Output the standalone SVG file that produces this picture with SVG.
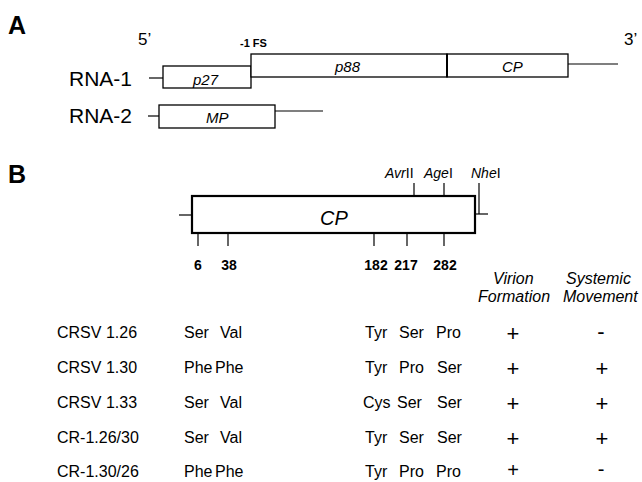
<svg xmlns="http://www.w3.org/2000/svg" width="642" height="482" viewBox="0 0 642 482">
<style>
text{font-family:"Liberation Sans",Arial,sans-serif;fill:#000}
.lbl{font-size:25px;font-weight:bold}
.rna{font-size:21px}
.end{font-size:17px}
.box{fill:#fff;stroke:#000;stroke-width:1.3}
.thick{fill:#fff;stroke:#000;stroke-width:2.2}
.ln{stroke:#000;stroke-width:1.2;fill:none}
.it{font-style:italic}
.g{font-size:15px}
.site{font-size:14px}
.num{font-size:14px;font-weight:bold}
.hd{font-size:16px;font-style:italic}
.row{font-size:16px}
.pm{font-size:22px}
.pm2{font-size:20px}
</style>
<rect width="642" height="482" fill="#fff"/>
<text class="lbl" x="8" y="34">A</text>
<text class="end" x="138" y="45">5’</text>
<text x="240" y="47" style="font-size:11px;font-weight:bold">-1 FS</text>
<text class="end" x="624" y="45">3’</text>

<g id="rna1">
<text class="rna" x="69" y="86">RNA-1</text>
<line class="ln" x1="149" y1="78" x2="163" y2="78"/>
<rect class="box" x="163" y="66" width="88" height="22"/>
<text class="g it" x="193" y="85">p27</text>
<rect class="box" x="251" y="54" width="196" height="23"/>
<text class="g it" x="335" y="72">p88</text>
<rect class="box" x="447" y="54" width="121" height="23"/>
<line x1="447" y1="54" x2="447" y2="77" stroke="#000" stroke-width="2"/>
<text class="g it" x="502" y="72">CP</text>
<line class="ln" x1="568" y1="64" x2="618" y2="64"/>
</g>

<g id="rna2">
<text class="rna" x="69" y="123">RNA-2</text>
<line class="ln" x1="148" y1="116" x2="159" y2="116"/>
<rect class="box" x="159" y="105" width="116" height="23"/>
<text class="g it" x="206" y="123">MP</text>
<line class="ln" x1="275" y1="111" x2="323" y2="111"/>
</g>

<text class="lbl" x="8" y="183">B</text>

<g id="cp">
<line class="ln" x1="179" y1="215" x2="192" y2="215"/>
<rect class="thick" x="192" y="196" width="283" height="37"/>
<text x="320" y="225" style="font-size:20px;font-style:italic">CP</text>
<line class="ln" x1="475" y1="214" x2="488" y2="214"/>
</g>

<g id="sites">
<text class="site" x="385" y="178"><tspan class="it">Avr</tspan>II</text>
<text class="site" x="424" y="178"><tspan class="it">Age</tspan>I</text>
<text class="site" x="471" y="178"><tspan class="it">Nhe</tspan>I</text>
<line class="ln" x1="414" y1="183" x2="414" y2="196"/>
<line class="ln" x1="444" y1="183" x2="444" y2="196"/>
<line class="ln" x1="479" y1="183" x2="479" y2="214"/>
</g>

<g id="ticks">
<line class="ln" x1="198" y1="233" x2="198" y2="246"/>
<line class="ln" x1="228" y1="233" x2="228" y2="246"/>
<line class="ln" x1="374" y1="233" x2="374" y2="246"/>
<line class="ln" x1="407" y1="233" x2="407" y2="246"/>
<line class="ln" x1="444" y1="233" x2="444" y2="246"/>
<text class="num" x="198" y="270" text-anchor="middle">6</text>
<text class="num" x="229" y="270" text-anchor="middle">38</text>
<text class="num" x="376" y="270" text-anchor="middle">182</text>
<text class="num" x="406" y="270" text-anchor="middle">217</text>
<text class="num" x="445" y="270" text-anchor="middle">282</text>
</g>

<g id="headers">
<text class="hd" x="493" y="284">Virion</text>
<text class="hd" x="478" y="302">Formation</text>
<text class="hd" x="566" y="284">Systemic</text>
<text class="hd" x="563" y="302">Movement</text>
</g>

<g id="rows">
<text class="row" x="57" y="338">CRSV 1.26</text>
<text class="row"><tspan x="184" y="338">Ser</tspan><tspan x="220">Val</tspan></text>
<text class="row"><tspan x="365" y="338">Tyr</tspan><tspan x="399">Ser</tspan><tspan x="436">Pro</tspan></text>
<text class="pm" x="513" y="341" text-anchor="middle">+</text>
<text class="pm" x="601" y="339" text-anchor="middle">-</text>

<text class="row" x="57" y="373">CRSV 1.30</text>
<text class="row"><tspan x="184" y="373">Phe</tspan><tspan x="215">Phe</tspan></text>
<text class="row"><tspan x="365" y="373">Tyr</tspan><tspan x="399">Pro</tspan><tspan x="437">Ser</tspan></text>
<text class="pm" x="513" y="376" text-anchor="middle">+</text>
<text class="pm" x="602" y="376" text-anchor="middle">+</text>

<text class="row" x="57" y="408">CRSV 1.33</text>
<text class="row"><tspan x="184" y="408">Ser</tspan><tspan x="220">Val</tspan></text>
<text class="row"><tspan x="363" y="408">Cys</tspan><tspan x="397">Ser</tspan><tspan x="437">Ser</tspan></text>
<text class="pm" x="513" y="411" text-anchor="middle">+</text>
<text class="pm" x="602" y="411" text-anchor="middle">+</text>

<text class="row" x="57" y="443">CR-1.26/30</text>
<text class="row"><tspan x="184" y="443">Ser</tspan><tspan x="220">Val</tspan></text>
<text class="row"><tspan x="365" y="443">Tyr</tspan><tspan x="399">Ser</tspan><tspan x="437">Ser</tspan></text>
<text class="pm" x="513" y="446" text-anchor="middle">+</text>
<text class="pm" x="602" y="446" text-anchor="middle">+</text>

<text class="row" x="57" y="477">CR-1.30/26</text>
<text class="row"><tspan x="184" y="477">Phe</tspan><tspan x="215">Phe</tspan></text>
<text class="row"><tspan x="365" y="477">Tyr</tspan><tspan x="399">Pro</tspan><tspan x="436">Pro</tspan></text>
<text class="pm2" x="513" y="477" text-anchor="middle">+</text>
<text class="pm2" x="601" y="476" text-anchor="middle">-</text>
</g>
</svg>
